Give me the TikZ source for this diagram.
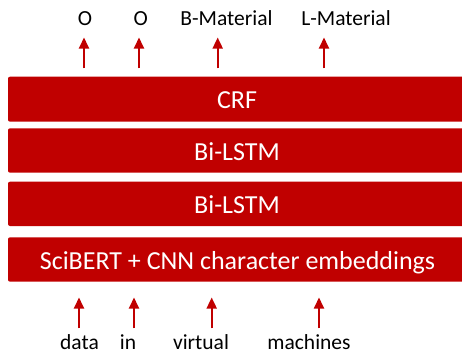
\documentclass[tikz,border=0pt]{standalone}
\usepackage{fontspec}
\setmainfont{Carlito}
\usetikzlibrary{arrows.meta}
\definecolor{layerred}{HTML}{C00000}
\begin{document}
\begin{tikzpicture}[x=1pt,y=-1pt,
  layer/.style={fill=layerred, rounded corners=2pt},
  lbl/.style={anchor=base, font=\fontsize{21.5}{26}\selectfont, inner sep=0pt, text depth=0pt},
  layertext/.style={lbl, font=\fontsize{26}{30}\selectfont, text=white},
  up/.style={draw=layerred, line width=1.8pt, -{Triangle[width=10pt,length=11pt]}}
]
\useasboundingbox (0,0) rectangle (462,353);

% stacked model layers
\fill[layer] (8,76.7) rectangle (468,121.7);
\fill[layer] (8,128.3) rectangle (468,172.7);
\fill[layer] (8,181.7) rectangle (468,226);
\fill[layer] (8,237.3) rectangle (468,281.7);
\node[layertext] (crf)   at (237,108.3) {CRF};
\node[layertext] (lstmA) at (237,160) {Bi-LSTM};
\node[layertext] (lstmB) at (237,213.3) {Bi-LSTM};
\node[layertext] (emb)   at (237.5,269) {SciBERT + CNN character embeddings};

% output tags
\node[lbl] (o1) at (85,26) {O};
\node[lbl] (o2) at (140.7,26) {O};
\node[lbl] (o3) at (226.5,26) {B-Material};
\node[lbl] (o4) at (346,26) {L-Material};

% input tokens
\node[lbl] (w1) at (79.5,349.5) {data};
\node[lbl] (w2) at (128,349.5) {in};
\node[lbl] (w3) at (201,349.5) {virtual};
\node[lbl] (w4) at (309,349.5) {machines};

% arrow ends
\coordinate (a1) at (84,68.3);    \coordinate (b1) at (84,37.5);
\coordinate (a2) at (139,68.3);   \coordinate (b2) at (139,37.5);
\coordinate (a3) at (217.7,68.3); \coordinate (b3) at (217.7,37.5);
\coordinate (a4) at (324,68.3);   \coordinate (b4) at (324,37.5);
\coordinate (c1) at (79,328.3);   \coordinate (d1) at (79,297.5);
\coordinate (c2) at (134,328.3);  \coordinate (d2) at (134,297.5);
\coordinate (c3) at (211.7,328.3); \coordinate (d3) at (211.7,297.5);
\coordinate (c4) at (319,328.3);  \coordinate (d4) at (319,297.5);

\foreach \i in {1,2,3,4} {
  \draw[up] (a\i) -- (b\i);
  \draw[up] (c\i) -- (d\i);
}
\end{tikzpicture}
\end{document}
